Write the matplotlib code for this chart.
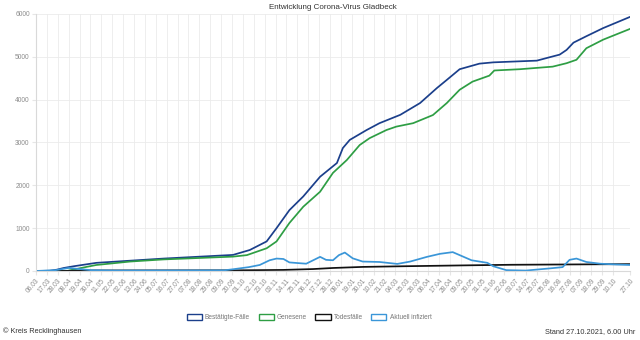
import matplotlib
matplotlib.use('Agg')
import matplotlib.pyplot as plt
import matplotlib.dates as mdates
from matplotlib.patches import Patch
import pandas as pd


# ==================== DATEN ====================

# Bestätigte Fälle
conf_dates = ['2020-03-06', '2020-03-20', '2020-03-27', '2020-04-03', '2020-04-13',
              '2020-05-06', '2020-06-09', '2020-07-13', '2020-08-19', '2020-09-21',
              '2020-10-08', '2020-10-25', '2020-11-04', '2020-11-17', '2020-12-01',
              '2020-12-18', '2021-01-04', '2021-01-10', '2021-01-17', '2021-02-03',
              '2021-02-16', '2021-03-09', '2021-03-29', '2021-04-15', '2021-04-25',
              '2021-05-08', '2021-05-28', '2021-06-11', '2021-07-25', '2021-08-07',
              '2021-08-17', '2021-08-24', '2021-08-31', '2021-09-13', '2021-09-30',
              '2021-10-27']
conf_vals = [0, 5, 30, 70, 110,
             190, 240, 290, 335, 375,
             490, 690, 1000, 1420, 1740,
             2200, 2520, 2870, 3060, 3290,
             3450, 3645, 3920, 4270, 4460,
             4710, 4840, 4870, 4910, 4990,
             5050, 5160, 5330, 5480, 5670,
             5930]

# Genesene
rec_dates = ['2020-03-06', '2020-04-06', '2020-04-27', '2020-05-06', '2020-06-09',
             '2020-07-13', '2020-09-21', '2020-10-05', '2020-10-25', '2020-11-04',
             '2020-11-17', '2020-12-01', '2020-12-18', '2020-12-31', '2021-01-14',
             '2021-01-27', '2021-02-06', '2021-02-23', '2021-03-05', '2021-03-22',
             '2021-04-11', '2021-04-25', '2021-05-08', '2021-05-21', '2021-06-07',
             '2021-06-12', '2021-07-08', '2021-08-10', '2021-08-24', '2021-09-03',
             '2021-09-13', '2021-09-30', '2021-10-27']
rec_vals = [0, 0, 100, 140, 220,
            270, 335, 370, 530, 690,
            1120, 1500, 1850, 2290, 2590,
            2940, 3100, 3290, 3370, 3450,
            3640, 3920, 4230, 4420, 4560,
            4680, 4710, 4770, 4850, 4930,
            5200, 5400, 5650]

# Todesfälle
death_dates = ['2020-03-06', '2020-04-05', '2020-05-05', '2020-09-22', '2020-11-11',
               '2020-12-11', '2020-12-31', '2021-01-30', '2021-03-11', '2021-05-10',
               '2021-06-29', '2021-10-27']
death_vals = [0, 2, 12, 15, 25,
              45, 70, 95, 110, 130,
              145, 160]

# Aktuell infiziert
act_dates = ['2020-03-06', '2020-03-26', '2020-04-08', '2020-04-17', '2020-04-30',
             '2020-05-25', '2020-09-12', '2020-09-21', '2020-10-07', '2020-10-18',
             '2020-10-28', '2020-11-04', '2020-11-11', '2020-11-17', '2020-11-28',
             '2020-12-04', '2020-12-11', '2020-12-18', '2020-12-24', '2020-12-31',
             '2021-01-06', '2021-01-12', '2021-01-20', '2021-01-30', '2021-02-16',
             '2021-03-06', '2021-03-19', '2021-04-05', '2021-04-18', '2021-05-01',
             '2021-05-11', '2021-05-20', '2021-06-05', '2021-06-11', '2021-06-24',
             '2021-07-14', '2021-08-07', '2021-08-20', '2021-08-27', '2021-09-03',
             '2021-09-13', '2021-09-27', '2021-10-14', '2021-10-27']
act_vals = [0, 20, 70, 50, 20,
            10, 15, 40, 90, 140,
            250, 290, 280, 200, 180,
            170, 250, 330, 260, 250,
            370, 430, 295, 220, 210,
            165, 220, 330, 400, 440,
            340, 250, 190, 110, 20,
            10, 60, 90, 260, 290,
            210, 170, 150, 140]

series_names = ['Bestätigte-Fälle', 'Genesene', 'Todesfälle', 'Aktuell infiziert']
series_colors = ['#1b3f8b', '#2e9e44', '#111111', '#3a96d8']

title = 'Entwicklung Corona-Virus Gladbeck'
source_text = '© Kreis Recklinghausen'
stand_text = 'Stand 27.10.2021, 6.00 Uhr'


# ==================== GRAFIK ====================

def main():
    plt.rcParams['font.family'] = ['Liberation Sans', 'DejaVu Sans']

    fig = plt.figure(figsize=(6.4, 3.4), dpi=100)
    ax = fig.add_axes([0.05625, 0.203, 0.928, 0.756])

    data = [(conf_dates, conf_vals), (rec_dates, rec_vals),
            (death_dates, death_vals), (act_dates, act_vals)]
    for (dates, vals), name, color in zip(data, series_names, series_colors):
        ax.plot(pd.to_datetime(dates), vals, color=color, lw=1.25, label=name)

    start = pd.Timestamp(conf_dates[0])
    end = pd.Timestamp(conf_dates[-1])
    ticks = list(pd.date_range(start, end, freq='11D'))
    ticks = ticks[:-1] + [end]  # letzter Tick = Stand-Datum

    ax.set_xlim(start, end)
    ax.set_ylim(0, 6000)
    ax.set_xticks(ticks)
    ax.xaxis.set_major_formatter(mdates.DateFormatter('%d.%m'))
    ax.set_yticks(range(0, 6001, 1000))

    ax.grid(True, color='#ebebeb', lw=0.6)
    ax.set_axisbelow(True)
    for s in ax.spines.values():
        s.set_visible(False)
    ax.spines['left'].set_visible(True)
    ax.spines['left'].set_color('#d9d9d9')
    ax.spines['bottom'].set_visible(True)
    ax.spines['bottom'].set_color('#d9d9d9')

    ax.tick_params(axis='both', length=3, color='#e6e6e6', labelsize=4.8,
                   labelcolor='#8c8c8c', pad=1.5)
    for lbl in ax.get_xticklabels():
        lbl.set_rotation(50)
        lbl.set_ha('right')
        lbl.set_va('top')
        lbl.set_rotation_mode('anchor')

    fig.text(0.52, 0.988, title, ha='center', va='top', fontsize=5.8, color='#333333')

    handles = [Patch(facecolor='white', edgecolor=c, lw=1.0) for c in series_colors]
    fig.legend(handles, series_names, loc='center', bbox_to_anchor=(0.483, 0.065),
               ncol=4, frameon=False, fontsize=4.7, labelcolor='#777777',
               handlelength=2.3, handleheight=0.9, handletextpad=0.5, columnspacing=1.3)

    fig.text(0.005, 0.026, source_text, ha='left', va='center', fontsize=5.3, color='#333333')
    fig.text(0.992, 0.026, stand_text, ha='right', va='center', fontsize=5.3, color='#333333')

    fig.savefig('out.png', dpi=100)


if __name__ == "__main__":
    main()
